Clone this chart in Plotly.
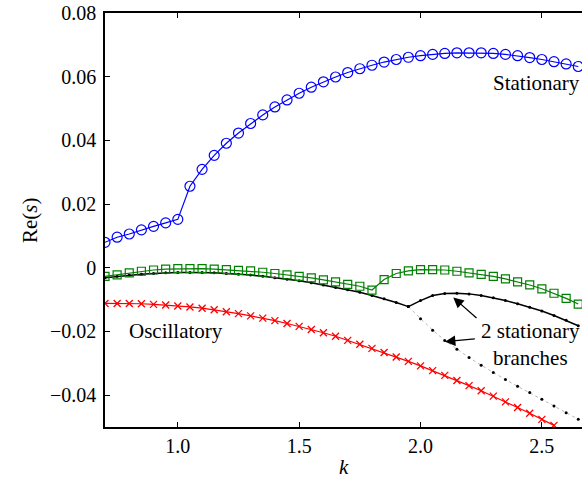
import plotly.graph_objects as go

# ---- data ----
k_full = [0.70, 0.75, 0.80, 0.85, 0.90, 0.95, 1.00, 1.05, 1.10, 1.15, 1.20, 1.25, 1.30, 1.35,
          1.40, 1.45, 1.50, 1.55, 1.60, 1.65, 1.70, 1.75, 1.80, 1.85, 1.90, 1.95, 2.00, 2.05,
          2.10, 2.15, 2.20, 2.25, 2.30, 2.35, 2.40, 2.45, 2.50, 2.55, 2.60, 2.65]

stationary_blue = [0.0080, 0.0096, 0.0106, 0.0119, 0.0130, 0.0141, 0.0152, 0.0256, 0.0309, 0.0353,
                   0.0391, 0.0423, 0.0453, 0.0480, 0.0505, 0.0527, 0.0548, 0.0567, 0.0584, 0.0599,
                   0.0613, 0.0625, 0.0636, 0.0646, 0.0654, 0.0661, 0.0666, 0.0670, 0.0673, 0.0675,
                   0.0675, 0.0675, 0.0673, 0.0670, 0.0666, 0.0660, 0.0654, 0.0647, 0.0640, 0.0632]

green_sq = [-0.0027, -0.0022, -0.0016, -0.0011, -0.0007, -0.0004, -0.0003, -0.0003, -0.0003, -0.0004,
            -0.0006, -0.0008, -0.0010, -0.0014, -0.0018, -0.0022, -0.0027, -0.0032, -0.0038, -0.0044,
            -0.0052, -0.0058, -0.0070, -0.0037, -0.0018, -0.0010, -0.0006, -0.0006, -0.0007, -0.0011,
            -0.0016, -0.0021, -0.0027, -0.0035, -0.0044, -0.0054, -0.0066, -0.0080, -0.0096, -0.0114]

k_black_a = [0.70, 0.75, 0.80, 0.85, 0.90, 0.95, 1.00, 1.05, 1.10, 1.15, 1.20, 1.25, 1.30, 1.35,
             1.40, 1.45, 1.50, 1.55, 1.60, 1.65, 1.70, 1.75, 1.80, 1.85, 1.90, 1.95]
black_a = [-0.0031, -0.0027, -0.0023, -0.0020, -0.0018, -0.0016, -0.0015, -0.0015, -0.0015, -0.0016,
           -0.0018, -0.0020, -0.0023, -0.0027, -0.0031, -0.0036, -0.0041, -0.0047, -0.0054, -0.0062,
           -0.0069, -0.0077, -0.0087, -0.0097, -0.0109, -0.0122]

k_branch = [1.95, 2.00, 2.05, 2.10, 2.15, 2.20, 2.25, 2.30, 2.35, 2.40, 2.45, 2.50, 2.55, 2.60, 2.65]
black_upper = [-0.0122, -0.0103, -0.0087, -0.0081, -0.0080, -0.0082, -0.0087, -0.0094, -0.0103,
               -0.0113, -0.0124, -0.0136, -0.0150, -0.0165, -0.0182]
black_lower = [-0.0122, -0.0160, -0.0196, -0.0228, -0.0256, -0.0282, -0.0306, -0.0329, -0.0351,
               -0.0372, -0.0392, -0.0413, -0.0434, -0.0455, -0.0476]

k_red = k_full[:38]
oscillatory_red = [-0.0112, -0.0112, -0.0112, -0.0113, -0.0115, -0.0117, -0.0120, -0.0123, -0.0127,
                   -0.0132, -0.0138, -0.0144, -0.0151, -0.0158, -0.0166, -0.0175, -0.0184, -0.0194,
                   -0.0204, -0.0215, -0.0228, -0.0240, -0.0253, -0.0266, -0.0280, -0.0294, -0.0308,
                   -0.0323, -0.0338, -0.0354, -0.0370, -0.0386, -0.0403, -0.0421, -0.0439, -0.0457,
                   -0.0476, -0.0495]

x_ticks = [1.0, 1.5, 2.0, 2.5]
x_tick_labels = ["1.0", "1.5", "2.0", "2.5"]
y_ticks = [-0.04, -0.02, 0, 0.02, 0.04, 0.06, 0.08]
y_tick_labels = ["\u22120.04", "\u22120.02", "0", "0.02", "0.04", "0.06", "0.08"]

FONT = "'Liberation Serif', Tinos, 'Times New Roman', Times, 'DejaVu Serif', serif"

fig = go.Figure()

fig.add_trace(go.Scatter(x=k_black_a, y=black_a, mode="lines+markers",
                         line=dict(color="black", width=1.5),
                         marker=dict(symbol="circle", size=3, color="black")))
fig.add_trace(go.Scatter(x=k_branch, y=black_upper, mode="lines+markers",
                         line=dict(color="black", width=1.5),
                         marker=dict(symbol="circle", size=3, color="black")))
fig.add_trace(go.Scatter(x=k_branch, y=black_lower, mode="lines+markers",
                         line=dict(color="#999999", width=0.7, dash="dot"),
                         marker=dict(symbol="circle", size=3, color="black")))
fig.add_trace(go.Scatter(x=k_full, y=green_sq, mode="lines+markers",
                         line=dict(color="#008000", width=1.2),
                         marker=dict(symbol="square-open", size=8, color="#008000",
                                     line=dict(width=1.2, color="#008000"))))
fig.add_trace(go.Scatter(x=k_red, y=oscillatory_red, mode="lines+markers",
                         line=dict(color="#ff0000", width=1.2),
                         marker=dict(symbol="x-thin-open", size=7, color="#ff0000",
                                     line=dict(width=1.3, color="#ff0000"))))
fig.add_trace(go.Scatter(x=k_full, y=stationary_blue, mode="lines+markers",
                         line=dict(color="#0000ff", width=1.2),
                         marker=dict(symbol="circle-open", size=10, color="#0000ff",
                                     line=dict(width=1.2, color="#0000ff"))))

ann_font = dict(family=FONT, size=21, color="black")
annotations = [
    dict(x=2.664, y=0.0581, xref="x", yref="y", text="Stationary", showarrow=False,
         xanchor="right", yanchor="middle", font=ann_font),
    dict(x=0.789, y=-0.0198, xref="x", yref="y", text="Oscillatory", showarrow=False,
         xanchor="left", yanchor="middle", font=ann_font),
    dict(x=2.455, y=-0.0240, xref="x", yref="y", text="2 stationary<br>branches", showarrow=False,
         xanchor="center", yanchor="middle", align="center", borderpad=0, font=ann_font),
    dict(x=2.1351, y=-0.00936, ax=2.237, ay=-0.0162, xref="x", yref="y", axref="x", ayref="y",
         text="", showarrow=True, arrowhead=2, arrowsize=1.6, arrowwidth=1.3, arrowcolor="black"),
    dict(x=2.1009, y=-0.02322, ax=2.230, ay=-0.0223, xref="x", yref="y", axref="x", ayref="y",
         text="", showarrow=True, arrowhead=2, arrowsize=1.6, arrowwidth=1.3, arrowcolor="black"),
    dict(x=-0.157, y=0.5, xref="paper", yref="paper", text="Re(<i>s</i>)", showarrow=False,
         textangle=-90, xanchor="center", yanchor="middle", font=ann_font),
    dict(x=0.5, y=-0.097, xref="paper", yref="paper", text="<i>k</i>", showarrow=False,
         xanchor="center", yanchor="middle", font=ann_font),
]

fig.update_layout(
    width=582, height=487,
    margin=dict(l=105, r=0, t=13, b=60),
    paper_bgcolor="white", plot_bgcolor="white",
    showlegend=False,
    font=dict(family=FONT, size=20, color="black"),
    annotations=annotations,
)
fig.update_xaxes(range=[0.7, 2.6654], tickvals=x_ticks, ticktext=x_tick_labels,
                 ticks="inside", ticklen=5, tickwidth=1, tickcolor="black",
                 showline=True, linecolor="black", linewidth=1.5, mirror="ticks",
                 showgrid=False, zeroline=False, tickfont=dict(family=FONT, size=20))
fig.update_yaxes(range=[-0.05, 0.08], tickvals=y_ticks, ticktext=y_tick_labels,
                 ticks="inside", ticklen=5, tickwidth=1, tickcolor="black",
                 showline=True, linecolor="black", linewidth=1.5, mirror=False,
                 ticklabelstandoff=3,
                 showgrid=False, zeroline=False, tickfont=dict(family=FONT, size=20))

fig.write_html("out.html")
